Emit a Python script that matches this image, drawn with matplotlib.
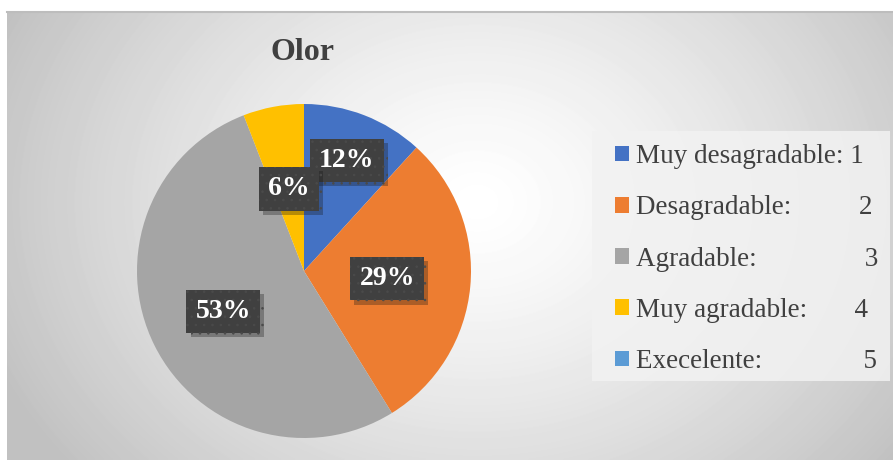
import numpy as np
import matplotlib
matplotlib.use("Agg")
import matplotlib.pyplot as plt
import matplotlib.patheffects as pe
from matplotlib.patches import Rectangle

# datos
categorias = ["Muy desagradable: 1", "Desagradable:          2", "Agradable:                3",
              "Muy agradable:       4", "Execelente:               5"]
valores = [2, 5, 9, 1, 0]
colores = ["#4472C4", "#ED7D31", "#A5A5A5", "#FFC000", "#5B9BD5"]
distancias = [0.71, 0.50, 0.54, 0.50, 0.5]

plt.rcParams["font.family"] = ["Liberation Serif", "DejaVu Serif"]
plt.rcParams["hatch.linewidth"] = 0.6

W, H = 893, 461
fig = plt.figure(figsize=(W / 100, H / 100), dpi=100)
fig.patch.set_facecolor("white")

# fondo con degradado radial
bg = fig.add_axes([7 / W, 1 / H, 886 / W, 448 / H])
yy, xx = np.mgrid[0:448, 0:886]
d = np.sqrt(((xx - 470) / 520.0) ** 2 + ((yy - 190) / 420.0) ** 2)
g = 1.0 - 0.24 * np.clip(d, 0, 1) ** 1.3
bg.imshow(g, cmap="gray", vmin=0, vmax=1, aspect="auto", interpolation="bilinear")
bg.set_xticks([])
bg.set_yticks([])
for s in bg.spines.values():
    s.set_visible(False)
bg.spines["top"].set_visible(True)
bg.spines["top"].set_color("#bdbdbd")
bg.spines["top"].set_linewidth(1.5)

# pastel
cx, cy, r = 304, 271, 167
ax = fig.add_axes([(cx - r) / W, (H - cy - r) / H, 2 * r / W, 2 * r / H])
ax.set_facecolor("none")
wedges, _ = ax.pie(valores, colors=colores, startangle=90, counterclock=False,
                   radius=1, wedgeprops=dict(linewidth=0))
ax.set_xlim(-1, 1)
ax.set_ylim(-1, 1)
ax.set_aspect("equal")
ax.axis("off")

total = sum(valores)
for w, v, dist in zip(wedges, valores, distancias):
    if v == 0:
        continue
    ang = np.deg2rad((w.theta1 + w.theta2) / 2)
    t = ax.text(dist * np.cos(ang), dist * np.sin(ang), f"{round(100 * v / total)}%",
                ha="center", va="center", color="white", fontsize=20, fontweight="bold",
                bbox=dict(boxstyle="square,pad=0.33", facecolor="#404040",
                          edgecolor="#4a4a4a", linewidth=0, hatch=".."))
    t.get_bbox_patch().set_path_effects([pe.SimplePatchShadow(offset=(3, -3), alpha=0.3),
                                         pe.Normal()])

fig.text(303 / W, 1 - 52 / H, "Olor", ha="center", va="center", fontsize=23,
         fontweight="bold", color="#404040")

# leyenda
fig.patches.append(Rectangle((592 / W, 1 - 381 / H), 298 / W, 250 / H,
                             transform=fig.transFigure, facecolor="#f2f2f2",
                             alpha=0.85, edgecolor="none", zorder=1))
leg = fig.legend(wedges, categorias, loc="upper left",
                 bbox_to_anchor=(615 / W, 1 - 144 / H), frameon=False, fontsize=19.5,
                 handlelength=0.52, handleheight=0.52, handletextpad=0.26,
                 labelspacing=0.97, borderpad=0, borderaxespad=0)
for txt in leg.get_texts():
    txt.set_color("#404040")

plt.savefig("out.png", dpi=100)
